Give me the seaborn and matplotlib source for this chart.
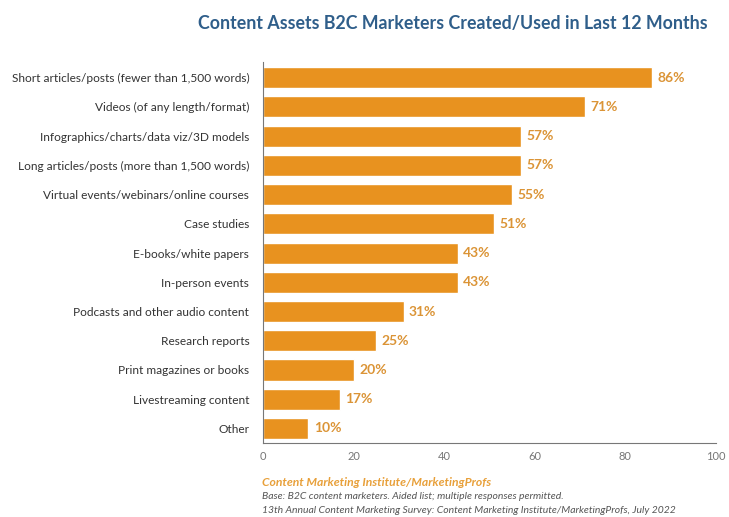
import matplotlib
matplotlib.use("Agg")
import matplotlib.pyplot as plt
import seaborn as sns
import pandas as pd

categories = [
    "Short articles/posts (fewer than 1,500 words)",
    "Videos (of any length/format)",
    "Infographics/charts/data viz/3D models",
    "Long articles/posts (more than 1,500 words)",
    "Virtual events/webinars/online courses",
    "Case studies",
    "E-books/white papers",
    "In-person events",
    "Podcasts and other audio content",
    "Research reports",
    "Print magazines or books",
    "Livestreaming content",
    "Other",
]
values = [86, 71, 57, 57, 55, 51, 43, 43, 31, 25, 20, 17, 10]
x_ticks = [0, 20, 40, 60, 80, 100]

title = "Content Assets B2C Marketers Created/Used in Last 12 Months"
source = "Content Marketing Institute/MarketingProfs"
notes = [
    "Base: B2C content marketers. Aided list; multiple responses permitted.",
    "13th Annual Content Marketing Survey: Content Marketing Institute/MarketingProfs, July 2022",
]

BAR = "#E8921F"
LABEL = "#DB9436"
TITLE = "#2F5E8A"
TEXT = "#333333"
AXIS = "#777777"

sns.set_theme(style="white")
plt.rcParams["font.family"] = ["Lato", "DejaVu Sans"]

df = pd.DataFrame({"category": categories, "value": values})

fig = plt.figure(figsize=(7.29, 5.17), dpi=100)
ax = fig.add_axes([0.361, 0.143, 0.621, 0.738])

sns.barplot(data=df, x="value", y="category", color=BAR, saturation=1,
            width=0.72, ax=ax, orient="h")

for i, v in enumerate(values):
    ax.text(v + 1.2, i, f"{v}%", va="center", ha="left",
            fontsize=10, fontweight="bold", color=LABEL)

ax.set_xlim(0, 100)
ax.set_ylim(len(categories) - 0.5, -0.55)
ax.set_xticks(x_ticks)
ax.set_xticklabels([str(t) for t in x_ticks], fontsize=8, color="#777777")
ax.tick_params(axis="x", direction="in", length=4, width=0.8, color=AXIS, pad=6)
ax.tick_params(axis="y", length=0, pad=10, labelsize=8.6, labelcolor=TEXT)
ax.set_xlabel("")
ax.set_ylabel("")

for side in ("top", "right"):
    ax.spines[side].set_visible(False)
for side in ("left", "bottom"):
    ax.spines[side].set_color(AXIS)
    ax.spines[side].set_linewidth(0.8)

fig.text(0.272, 0.955, title, fontsize=12.8, fontweight="bold",
         color=TITLE, ha="left", va="center")

fig.text(0.359, 0.067, source, fontsize=8.7, fontweight="bold",
         fontstyle="italic", color="#E8A03A", ha="left", va="center")
fig.text(0.359, 0.040, notes[0], fontsize=7.5, fontstyle="italic",
         color="#555555", ha="left", va="center")
fig.text(0.359, 0.012, notes[1], fontsize=7.5, fontstyle="italic",
         color="#555555", ha="left", va="center")

fig.savefig("out.png", dpi=100, facecolor="white")
